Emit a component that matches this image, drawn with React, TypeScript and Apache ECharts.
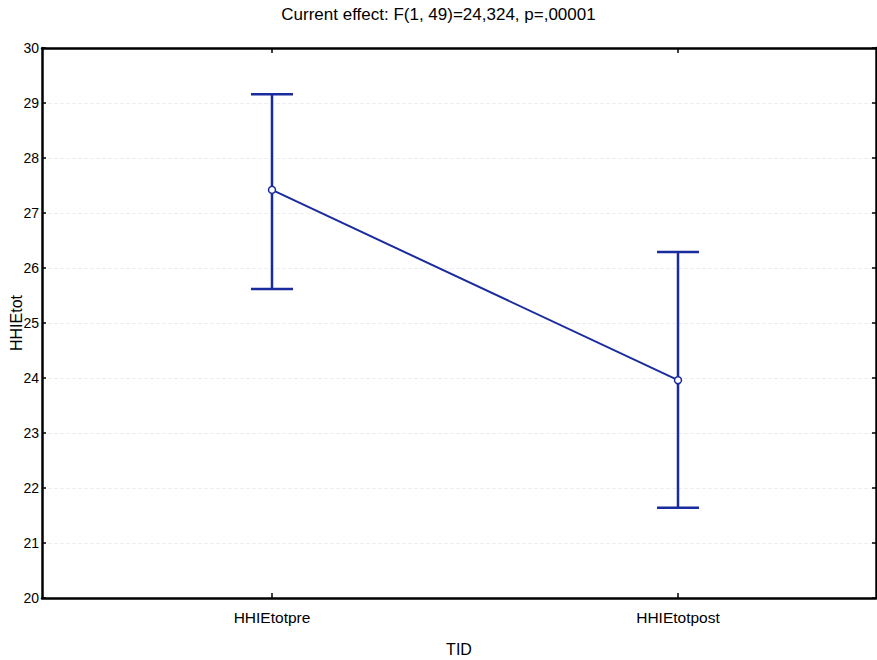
import React, { useEffect, useRef } from "react";
import * as echarts from "echarts";

const categories = ["HHIEtotpre", "HHIEtotpost"];
const means = [27.42, 23.96];
const upper = [29.16, 26.29];
const lower = [25.62, 21.64];
const titleText = "Current effect: F(1, 49)=24,324, p=,00001";

const BLUE = "#1a2b9e";
const FONT = "'Liberation Sans', Arial, sans-serif";

export default function App() {
  const ref = useRef<HTMLDivElement>(null);
  useEffect(() => {
    const chart = echarts.init(ref.current!, null, { renderer: "svg" });
    const lineData = means.map((m, i) => [i, m]);
    const errData = means.map((m, i) => [i, lower[i], upper[i]]);
    const xMin = -0.5665;
    const xMax = 1.4877;
    const catIdx = categories.map((_, i) => i);
    chart.setOption({
      animation: false,
      backgroundColor: "#ffffff",
      textStyle: { fontFamily: FONT },
      title: {
        text: titleText,
        left: "center",
        top: 1,
        textStyle: { fontSize: 17, fontWeight: "normal", color: "#000", fontFamily: FONT },
      },
      grid: { left: 42, right: 1, top: 48, bottom: 62, outerBoundsMode: "none", containLabel: false },
      xAxis: [
        {
          type: "value",
          min: xMin,
          max: xMax,
          position: "bottom",
          name: "TID",
          nameLocation: "middle",
          nameGap: 43,
          nameMoveOverlap: false,
          nameTextStyle: { fontSize: 16, color: "#000", fontFamily: FONT },
          axisLine: { show: true, onZero: false, lineStyle: { color: "#000", width: 2.5 } },
          axisTick: { show: true, inside: true, length: 5, customValues: catIdx, lineStyle: { color: "#000", width: 1.5 } },
          axisLabel: {
            show: true,
            customValues: catIdx,
            formatter: (v: number) => categories[Math.round(v)] ?? "",
            fontSize: 15.5,
            color: "#000",
            margin: 11,
            fontFamily: FONT,
          },
          splitLine: { show: false },
        },
        {
          type: "value",
          min: xMin,
          max: xMax,
          position: "top",
          axisLine: { show: true, onZero: false, lineStyle: { color: "#000", width: 2.5 } },
          axisTick: { show: true, inside: true, length: 5, customValues: catIdx, lineStyle: { color: "#000", width: 1.5 } },
          axisLabel: { show: false },
          splitLine: { show: false },
        },
      ],
      yAxis: [
        {
          type: "value",
          min: 20,
          max: 30,
          interval: 1,
          position: "left",
          name: "HHIEtot",
          nameLocation: "middle",
          nameGap: 18,
          nameMoveOverlap: false,
          nameRotate: 90,
          nameTextStyle: { fontSize: 16, color: "#000", fontFamily: FONT },
          axisLine: { show: true, onZero: false, lineStyle: { color: "#000", width: 2.5 } },
          axisTick: { show: true, inside: true, length: 4, lineStyle: { color: "#000", width: 1.5 } },
          axisLabel: { fontSize: 14, color: "#000", margin: 3, fontFamily: FONT },
          splitLine: { show: true, lineStyle: { color: "#efefef", type: "dashed", width: 1 } },
        },
        {
          type: "value",
          min: 20,
          max: 30,
          interval: 1,
          position: "right",
          axisLine: { show: true, onZero: false, lineStyle: { color: "#000", width: 2.5 } },
          axisTick: { show: true, inside: true, length: 4, lineStyle: { color: "#000", width: 1.5 } },
          axisLabel: { show: false },
          splitLine: { show: false },
        },
      ],
      series: [
        {
          type: "custom",
          xAxisIndex: 0,
          yAxisIndex: 0,
          data: errData,
          encode: { x: 0, y: [1, 2] },
          z: 2,
          renderItem: (params: any, api: any) => {
            const x = api.value(0);
            const lo = api.value(1);
            const hi = api.value(2);
            const pLo = api.coord([x, lo]);
            const pHi = api.coord([x, hi]);
            const hw = 21;
            const style = { stroke: BLUE, lineWidth: 2.5, fill: "none" };
            return {
              type: "group",
              children: [
                { type: "line", shape: { x1: pHi[0], y1: pHi[1], x2: pLo[0], y2: pLo[1] }, style },
                { type: "line", shape: { x1: pHi[0] - hw, y1: pHi[1], x2: pHi[0] + hw, y2: pHi[1] }, style },
                { type: "line", shape: { x1: pLo[0] - hw, y1: pLo[1], x2: pLo[0] + hw, y2: pLo[1] }, style },
              ],
            };
          },
        },
        {
          type: "line",
          xAxisIndex: 0,
          yAxisIndex: 0,
          data: lineData,
          z: 3,
          symbol: "circle",
          symbolSize: 7,
          showSymbol: true,
          lineStyle: { color: BLUE, width: 2 },
          itemStyle: { color: "#ffffff", borderColor: BLUE, borderWidth: 1.5 },
        },
      ],
    });
    return () => chart.dispose();
  }, []);
  return <div ref={ref} style={{ position: "fixed", left: 0, top: 0, width: 877, height: 660 }} />;
}
